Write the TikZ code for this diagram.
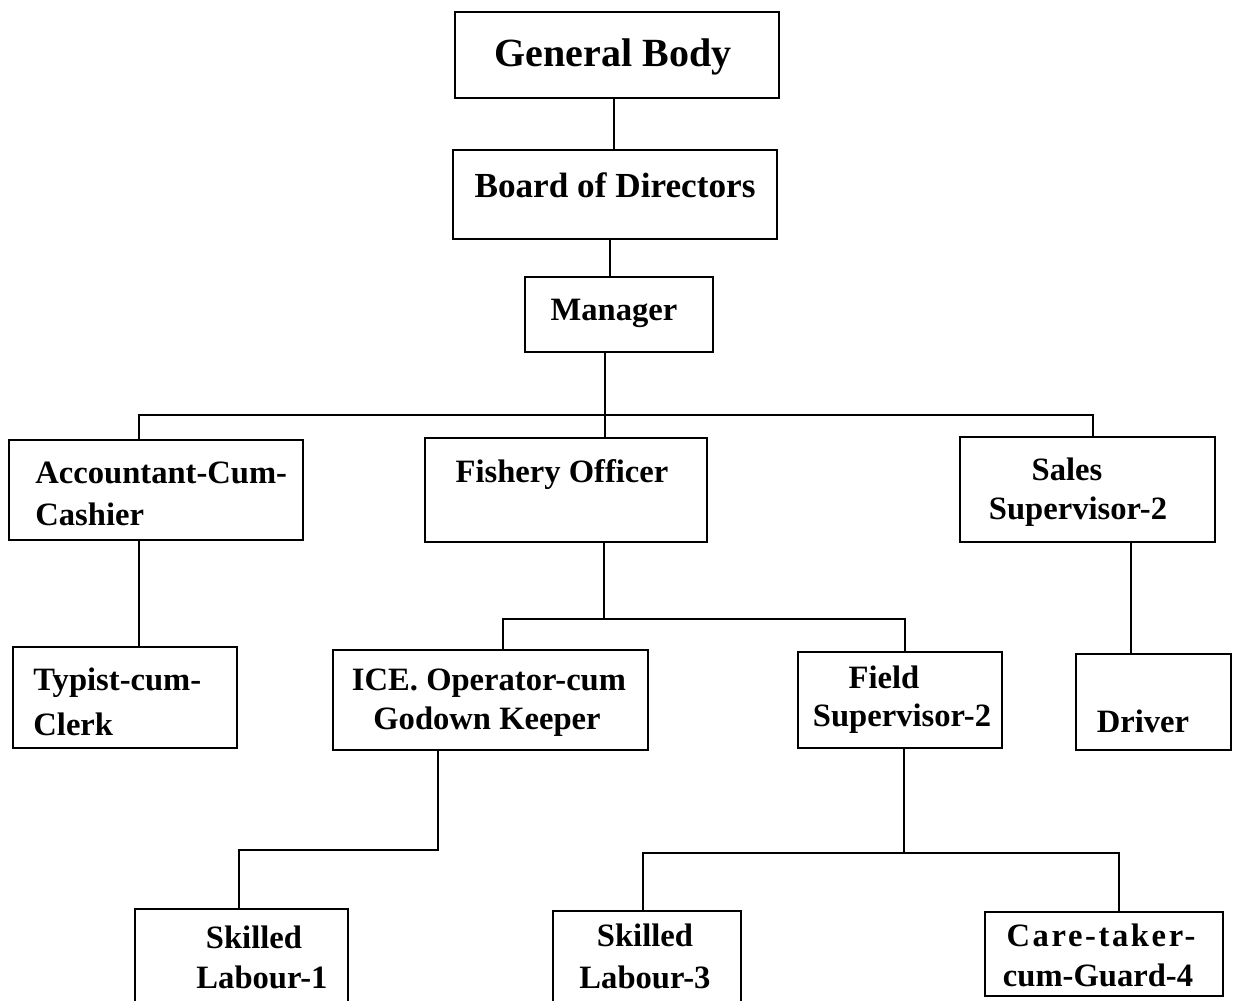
\documentclass[tikz,border=0pt]{standalone}
\usepackage{fontspec}
\setmainfont{Liberation Serif}
\usetikzlibrary{fit}

\tikzset{
  orgbox/.style={draw, line width=1.4pt, inner sep=0pt},
  link/.style={line width=1.3pt},
  lbl/.style={inner sep=0pt, anchor=base, font=\bfseries\fontsize{16.3pt}{20pt}\selectfont},
  lblL/.style={lbl, anchor=base west}
}

\begin{document}
\begin{tikzpicture}[x=0.5pt, y=-0.5pt]
\useasboundingbox (0,0) rectangle (1239,1001);
\clip (0,0) rectangle (1239,1001);

% boxes
\node[orgbox, fit={(455,12) (779,98)}]    (gb)  {};
\node[orgbox, fit={(453,150) (777,239)}]  (bd)  {};
\node[orgbox, fit={(525,277) (713,352)}]  (mg)  {};
\node[orgbox, fit={(9,440) (303,540)}]    (ac)  {};
\node[orgbox, fit={(425,438) (707,542)}]  (fo)  {};
\node[orgbox, fit={(960,437) (1215,542)}] (ss)  {};
\node[orgbox, fit={(13,647) (237,748)}]   (tc)  {};
\node[orgbox, fit={(333,650) (648,750)}]  (ice) {};
\node[orgbox, fit={(798,652) (1002,748)}] (fs)  {};
\node[orgbox, fit={(1076,654) (1231,750)}](dr)  {};
\node[orgbox, fit={(135,909) (348,1030)}] (sl1) {};
\node[orgbox, fit={(553,911) (741,1030)}] (sl3) {};
\node[orgbox, fit={(985,912) (1223,996)}] (cg)  {};

% box texts
\node[lbl, font=\bfseries\fontsize{20pt}{24pt}\selectfont] (gb-t) at (613,67) {General Body};
\node[lbl, font=\bfseries\fontsize{17.6pt}{21pt}\selectfont] (bd-t) at (615,197) {Board of Directors};
\node[lbl] (mg-t) at (614,320) {Manager};
\node[lblL] (ac-t1) at (35,483) {Accountant-Cum-};
\node[lblL] (ac-t2) at (35,525) {Cashier};
\node[lbl] (fo-t) at (562,482) {Fishery Officer};
\node[lbl] (ss-t1) at (1067,480) {Sales};
\node[lbl] (ss-t2) at (1078,519) {Supervisor-2};
\node[lblL] (tc-t1) at (33,690) {Typist-cum-};
\node[lblL] (tc-t2) at (33,735) {Clerk};
\node[lbl] (ice-t1) at (489,690) {ICE. Operator-cum};
\node[lbl] (ice-t2) at (487,729) {Godown Keeper};
\node[lbl] (fs-t1) at (884,688) {Field};
\node[lbl] (fs-t2) at (902,726) {Supervisor-2};
\node[lbl] (dr-t) at (1143,732) {Driver};
\node[lbl] (sl1-t1) at (254,948) {Skilled};
\node[lbl] (sl1-t2) at (262,988) {Labour-1};
\node[lbl] (sl3-t1) at (645,946) {Skilled};
\node[lbl] (sl3-t2) at (645,988) {Labour-3};
\node[lbl, font=\bfseries\fontsize{16.3pt}{20pt}\selectfont\addfontfeature{LetterSpace=8}] (cg-t1) at (1101,946) {Care-taker-};
\node[lbl] (cg-t2) at (1098,986) {cum-Guard-4};

% junction points of the connectors
\coordinate (c-gb) at (614,0);
\coordinate (c-bd) at (610,0);
\coordinate (busM) at (605,415);
\coordinate (busL) at (139,415);
\coordinate (busR) at (1093,415);
\coordinate (sub)  at (604,619);
\coordinate (subL) at (503,619);
\coordinate (subR) at (905,619);
\coordinate (c-ss) at (1131,0);
\coordinate (iceB) at (438,850);
\coordinate (iceL) at (239,850);
\coordinate (fsB)  at (904,853);
\coordinate (fsL)  at (643,853);
\coordinate (fsR)  at (1119,853);

% connectors
\draw[link] (gb.south -| c-gb) -- (bd.north -| c-gb);
\draw[link] (bd.south -| c-bd) -- (mg.north -| c-bd);
\draw[link] (mg.south -| busM) -- (fo.north -| busM);
\draw[link] (ac.north -| busL) -- (busL) -- (busR) -- (ss.north -| busR);
\draw[link] (ac.south -| busL) -- (tc.north -| busL);
\draw[link] (fo.south -| sub) -- (sub);
\draw[link] (ice.north -| subL) -- (subL) -- (subR) -- (fs.north -| subR);
\draw[link] (ss.south -| c-ss) -- (dr.north -| c-ss);
\draw[link] (ice.south -| iceB) -- (iceB) -- (iceL) -- (sl1.north -| iceL);
\draw[link] (fs.south -| fsB) -- (fsB);
\draw[link] (sl3.north -| fsL) -- (fsL) -- (fsR) -- (cg.north -| fsR);
\end{tikzpicture}
\end{document}
